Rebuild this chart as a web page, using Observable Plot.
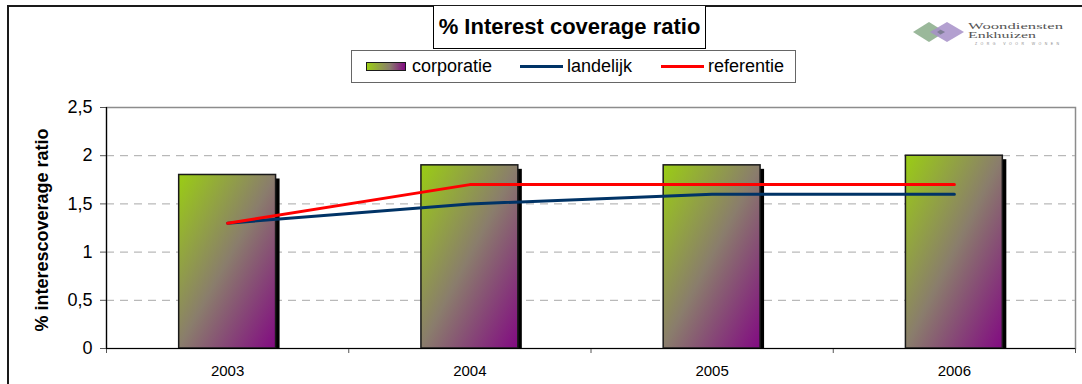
<!DOCTYPE html>
<html>
<head>
<meta charset="utf-8">
<script src="https://cdn.jsdelivr.net/npm/d3@7"></script>
<script src="https://cdn.jsdelivr.net/npm/@observablehq/plot@0.6"></script>
<style>
  html, body { margin: 0; padding: 0; background: #fff; }
  #wrap { position: relative; width: 1082px; height: 384px; overflow: hidden; font-family: "Liberation Sans", Arial, sans-serif; }
  #outer { position: absolute; left: 7px; top: 5px; width: 1200px; height: 500px; border-left: 2px solid #1a1a1a; border-top: 2px solid #1a1a1a; box-sizing: border-box; }
  #chart { position: absolute; left: 0; top: 0; }
  #title { position: absolute; left: 433px; top: 6px; width: 273px; height: 43px; border: 1px solid #000; border-top: none; box-sizing: border-box; background: #fff;
           font-weight: bold; font-size: 22px; display: flex; align-items: center; justify-content: center; white-space: nowrap; }
  #legend { position: absolute; left: 351px; top: 50px; width: 445px; height: 33px; border: 1px solid #666; box-sizing: border-box; background: #fff; font-size: 18px; }
  .item { position: absolute; top: 0; height: 31px; display: flex; align-items: center; white-space: nowrap; }
  .sw { width: 38px; height: 7px; border: 1px solid #1a1a1a; background: linear-gradient(90deg, #9acd14, #8a7d6c 60%, #820a82); margin-right: 6px; }
  .ln { width: 43px; height: 3px; margin-right: 4px; }
  #ylabel { position: absolute; left: 42px; top: 230px; transform: translate(-50%, -50%) rotate(-90deg); font-weight: bold; font-size: 18px; white-space: nowrap; }
  #logo { position: absolute; left: 905px; top: 14px; }
</style>
</head>
<body>
<div id="wrap">
  <div id="outer"></div>
  <div id="chart"></div>
  <div id="title"></div>
  <div id="legend"></div>
  <div id="ylabel"></div>
  <svg id="logo" width="170" height="36" viewBox="0 0 170 36">
    <polygon points="8,18 24,8 40,18 24,28" fill="#8fb08f" opacity="0.9"/>
    <polygon points="25,18 42,8 59,18 42,28" fill="#a68fc8" opacity="0.85"/>
    <polygon points="32,18 35.5,15.8 40,18 35.5,20.5" fill="#7e7e94"/>
    <text x="63" y="14.5" font-family="Liberation Serif, DejaVu Serif, serif" font-size="8.5" fill="#555" textLength="95" lengthAdjust="spacingAndGlyphs">Woondiensten</text>
    <text x="63" y="24" font-family="Liberation Serif, DejaVu Serif, serif" font-size="8.5" fill="#555" textLength="68" lengthAdjust="spacingAndGlyphs">Enkhuizen</text>
    <text x="70" y="30.5" font-family="Liberation Sans, sans-serif" font-size="3.5" fill="#888" textLength="84" lengthAdjust="spacing">ZORG VOOR WONEN</text>
  </svg>
</div>
<script>
// ---- data ----
const years = ["2003", "2004", "2005", "2006"];
const corporatie = [1.8, 1.9, 1.9, 2.0];
const landelijk = [1.3, 1.5, 1.6, 1.6];
const referentie = [1.3, 1.7, 1.7, 1.7];
const yTicks = [0, 0.5, 1, 1.5, 2, 2.5];
const titleText = "% Interest coverage ratio";
const yLabelText = "% interescoverage ratio";
const seriesNames = ["corporatie", "landelijk", "referentie"];
const seriesColors = { landelijk: "#003366", referentie: "#ff0000" };

const data = years.map((year, i) => ({
  i, year,
  corporatie: corporatie[i],
  landelijk: landelijk[i],
  referentie: referentie[i]
}));

const bx1 = d => d.i + 0.3;
const bx2 = d => d.i + 0.7;
const cx = d => d.i + 0.5;

const chart = Plot.plot({
  width: 1082,
  height: 384,
  marginLeft: 106,
  marginRight: 7,
  marginTop: 107,
  marginBottom: 36,
  x: { domain: [0, years.length] },
  y: { domain: [0, 2.5] },
  style: { fontFamily: "Liberation Sans, Arial, sans-serif", background: "transparent", color: "#000", overflow: "visible" },
  marks: [
    Plot.frame({ stroke: "#8c8c8c", strokeWidth: 1.5 }),
    Plot.gridY(yTicks.filter(v => v > 0 && v < 2.5), { stroke: "#a8a8a8", strokeOpacity: 1, strokeDasharray: "8,6" }),
    Plot.rectY(data, { x1: bx1, x2: bx2, y: "corporatie", fill: "#000", dx: 4, dy: 4, clip: true }),
    Plot.rectY(data, { x1: bx1, x2: bx2, y: "corporatie", fill: "url(#barGrad)", stroke: "#1a1a1a", strokeWidth: 1.5 }),
    Plot.line(data, { x: cx, y: "landelijk", stroke: seriesColors.landelijk, strokeWidth: 3 }),
    Plot.line(data, { x: cx, y: "referentie", stroke: seriesColors.referentie, strokeWidth: 3 }),
    Plot.axisY({ ticks: yTicks, tickFormat: d => String(d).replace(".", ","), tickSize: 6, tickPadding: 8, fontSize: 18, label: null, stroke: "#555" }),
    Plot.axisX({ ticks: d3.range(years.length + 1), tickFormat: () => "", tickSize: 5, label: null, stroke: "#555" }),
    Plot.axisX({ ticks: years.map((y, i) => i + 0.5), tickFormat: d => years[Math.floor(d)], tickSize: 0, tickPadding: 17, fontSize: 15, label: null }),
    Plot.ruleX([0], { stroke: "#000", strokeWidth: 1.2 }),
    Plot.ruleY([0], { stroke: "#000", strokeWidth: 1.2 })
  ]
});

// gradient definition for the bars
const svg = d3.select(chart);
const defs = svg.insert("defs", ":first-child");
const g = defs.append("linearGradient").attr("id", "barGrad")
  .attr("x1", 0).attr("y1", 0).attr("x2", 1).attr("y2", 1);
g.append("stop").attr("offset", "0%").attr("stop-color", "#9acd14");
g.append("stop").attr("offset", "50%").attr("stop-color", "#8a7d6c");
g.append("stop").attr("offset", "100%").attr("stop-color", "#820a82");

document.getElementById("chart").appendChild(chart);
document.getElementById("title").textContent = titleText;
document.getElementById("ylabel").textContent = yLabelText;

// legend
const legend = document.getElementById("legend");
const itemLefts = [14, 168, 309];
seriesNames.forEach((name, k) => {
  const it = document.createElement("div");
  it.className = "item";
  it.style.left = itemLefts[k] + "px";
  const mk = document.createElement("div");
  if (name === "corporatie") { mk.className = "sw"; }
  else { mk.className = "ln"; mk.style.background = seriesColors[name]; }
  it.appendChild(mk);
  const t = document.createElement("span");
  t.textContent = name;
  it.appendChild(t);
  legend.appendChild(it);
});
</script>
</body>
</html>
